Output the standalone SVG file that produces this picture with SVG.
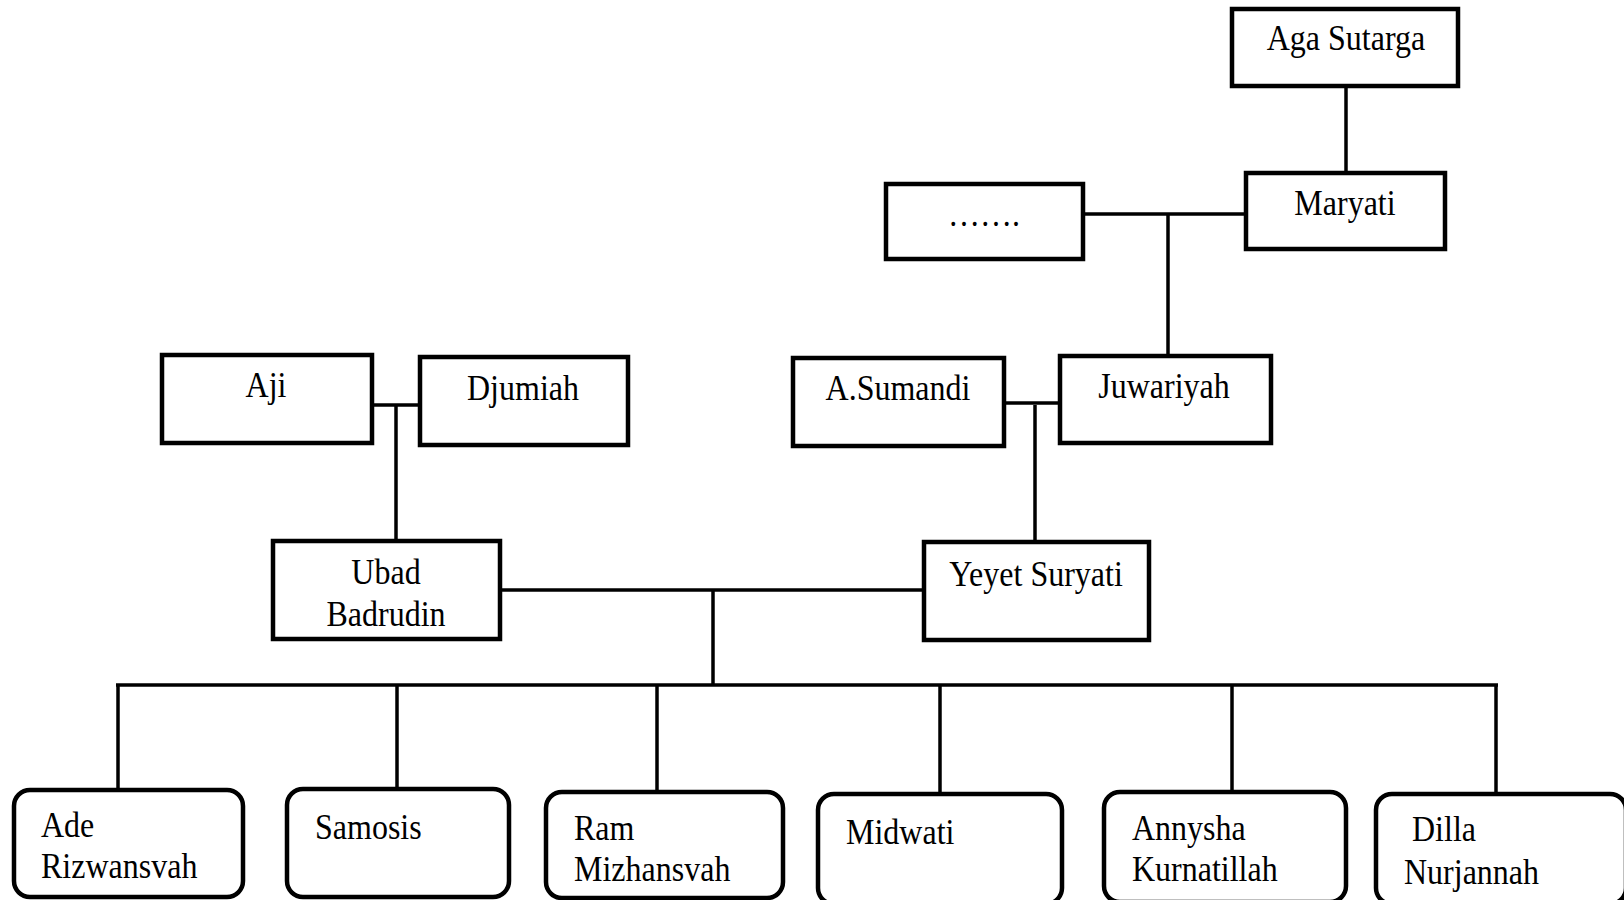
<svg xmlns="http://www.w3.org/2000/svg" width="1624" height="900" viewBox="0 0 1624 900">
<style>
.box{fill:#fff;stroke:#000;stroke-width:4.5}
.cbox{fill:#fff;stroke:#000;stroke-width:4.5}
.ln{stroke:#000;stroke-width:3.5;fill:none}
text{font-family:"Liberation Serif","Times New Roman",serif;font-size:32px;fill:#000}
.c{text-anchor:middle}
</style>
<rect width="1624" height="900" fill="#fff"/>
<g id="connectors">
<line class="ln" x1="1346" y1="86" x2="1346" y2="173"/>
<line class="ln" x1="1083" y1="214" x2="1246" y2="214"/>
<line class="ln" x1="1168" y1="214" x2="1168" y2="356"/>
<line class="ln" x1="372" y1="405" x2="420" y2="405"/>
<line class="ln" x1="396" y1="405" x2="396" y2="541"/>
<line class="ln" x1="1004" y1="403" x2="1060" y2="403"/>
<line class="ln" x1="1035" y1="405" x2="1035" y2="542"/>
<line class="ln" x1="500" y1="590" x2="924" y2="590"/>
<line class="ln" x1="713" y1="590" x2="713" y2="685"/>
<line class="ln" x1="116" y1="685" x2="1498" y2="685"/>
<line class="ln" x1="118" y1="685" x2="118" y2="792"/>
<line class="ln" x1="397" y1="685" x2="397" y2="792"/>
<line class="ln" x1="657" y1="685" x2="657" y2="792"/>
<line class="ln" x1="940" y1="685" x2="940" y2="794"/>
<line class="ln" x1="1232" y1="685" x2="1232" y2="792"/>
<line class="ln" x1="1496" y1="685" x2="1496" y2="794"/>
</g>
<g id="aga"><rect class="box" x="1232" y="9" width="226" height="77"/><text class="c" transform="translate(1346 50) scale(1 1.12)">Aga Sutarga</text></g>
<g id="maryati"><rect class="box" x="1246" y="173" width="199" height="76"/><text class="c" transform="translate(1345 215) scale(1 1.12)">Maryati</text></g>
<g id="dots"><rect class="box" x="886" y="184" width="197" height="75"/><text class="c" transform="translate(984 226) scale(1 1.12)">…….</text></g>
<g id="aji"><rect class="box" x="162" y="355" width="210" height="88"/><text class="c" transform="translate(266 397) scale(1 1.12)">Aji</text></g>
<g id="djumiah"><rect class="box" x="420" y="357" width="208" height="88"/><text class="c" transform="translate(523 400) scale(1 1.12)">Djumiah</text></g>
<g id="asumandi"><rect class="box" x="793" y="358" width="211" height="88"/><text class="c" transform="translate(898 400) scale(1 1.12)">A.Sumandi</text></g>
<g id="juwariyah"><rect class="box" x="1060" y="356" width="211" height="87"/><text class="c" transform="translate(1164 398) scale(1 1.12)">Juwariyah</text></g>
<g id="ubad"><rect class="box" x="273" y="541" width="227" height="98"/><text class="c" transform="translate(386 584) scale(1 1.12)">Ubad</text><text class="c" transform="translate(386 626) scale(1 1.12)">Badrudin</text></g>
<g id="yeyet"><rect class="box" x="924" y="542" width="225" height="98"/><text class="c" transform="translate(1036 586) scale(1 1.12)">Yeyet Suryati</text></g>
<g id="ade"><rect class="cbox" x="14" y="790" width="229" height="107" rx="16"/><text transform="translate(41 837) scale(1 1.12)">Ade</text><text transform="translate(41 878) scale(1 1.12)">Rizwansvah</text></g>
<g id="samosis"><rect class="cbox" x="287" y="789" width="222" height="108" rx="16"/><text transform="translate(315 839) scale(1 1.12)">Samosis</text></g>
<g id="ram"><rect class="cbox" x="546" y="792" width="237" height="106" rx="16"/><text transform="translate(574 840) scale(1 1.12)">Ram</text><text transform="translate(574 881) scale(1 1.12)">Mizhansvah</text></g>
<g id="midwati"><rect class="cbox" x="818" y="794" width="244" height="110" rx="16"/><text transform="translate(846 844) scale(1 1.12)">Midwati</text></g>
<g id="annysha"><rect class="cbox" x="1104" y="792" width="242" height="110" rx="16"/><text transform="translate(1132 840) scale(1 1.12)">Annysha</text><text transform="translate(1132 881) scale(1 1.12)">Kurnatillah</text></g>
<g id="dilla"><rect class="cbox" x="1376" y="794" width="250" height="110" rx="16"/><text transform="translate(1412 841) scale(1 1.12)">Dilla</text><text transform="translate(1404 884) scale(1 1.12)">Nurjannah</text></g>
</svg>
